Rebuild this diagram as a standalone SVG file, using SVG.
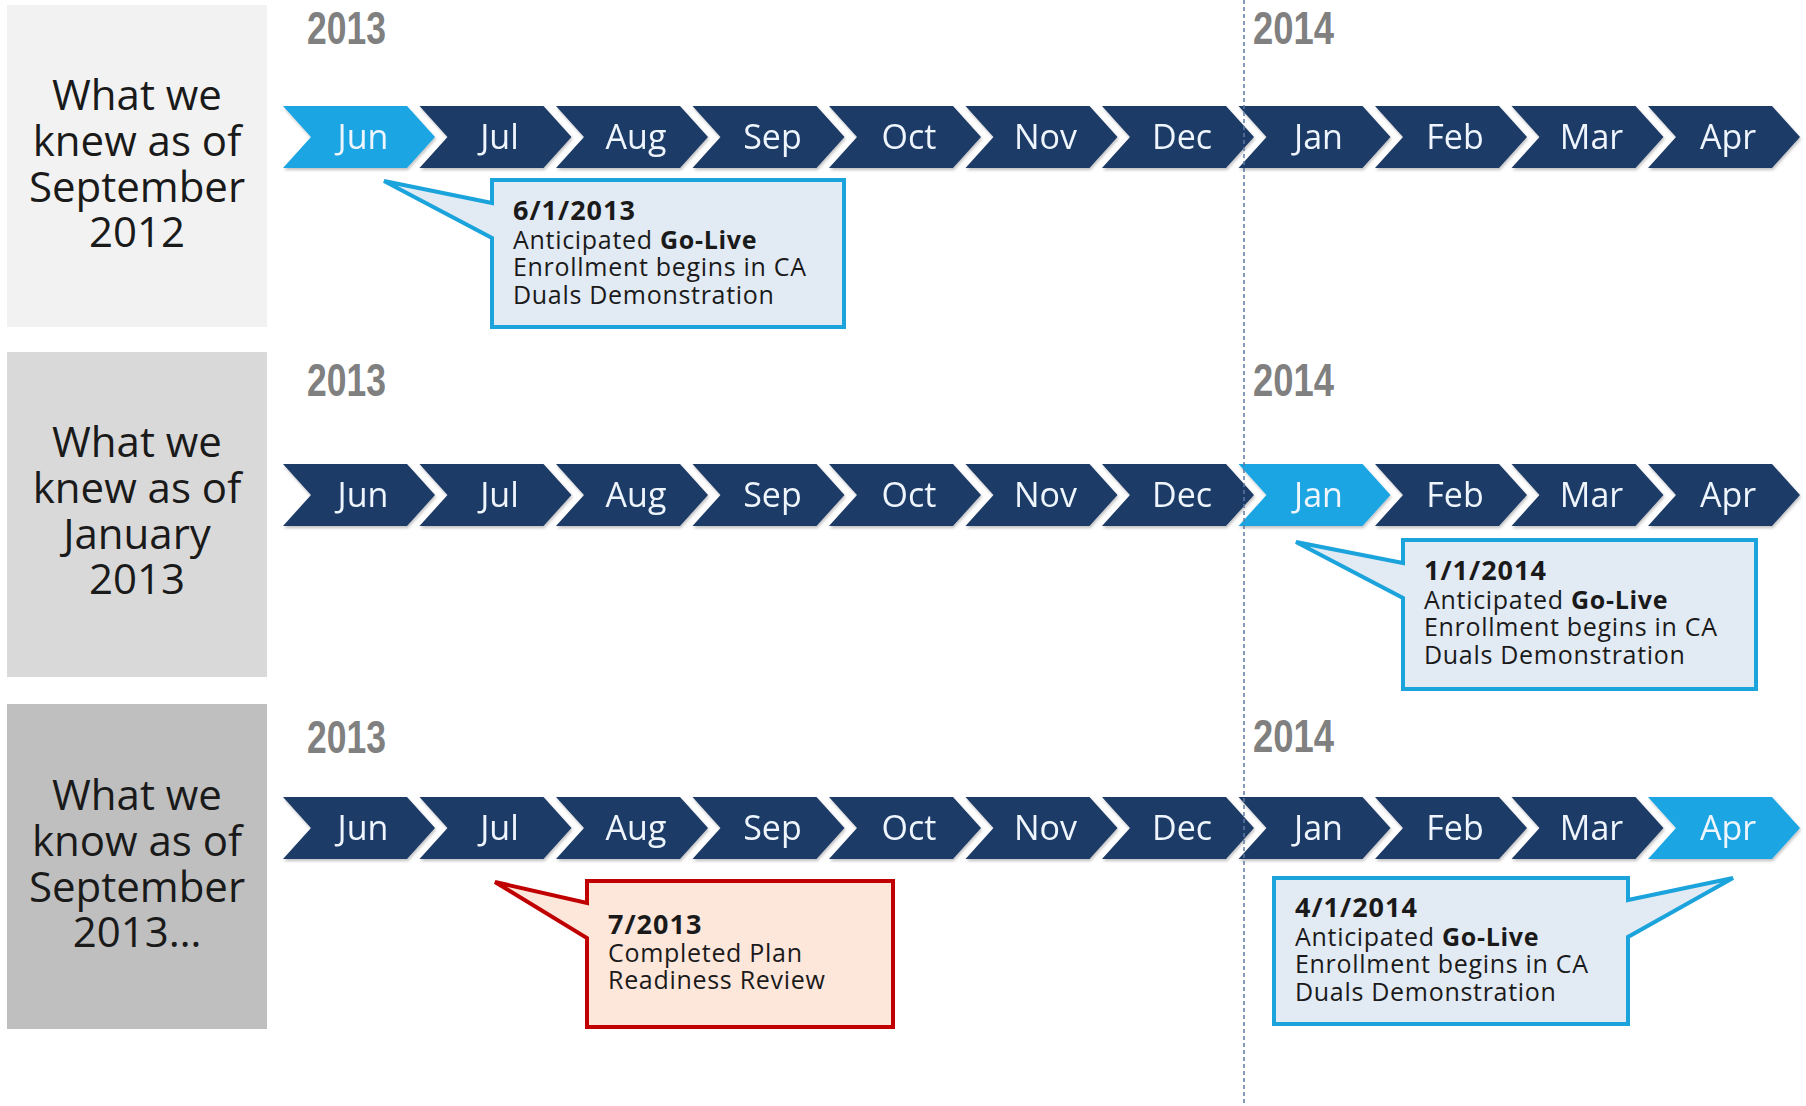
<svg xmlns="http://www.w3.org/2000/svg" xmlns:xlink="http://www.w3.org/1999/xlink" width="1806" height="1106" viewBox="0 0 1806 1106">
<defs>
<filter id="sh" x="-10%" y="-20%" width="120%" height="150%">
<feDropShadow dx="1" dy="2" stdDeviation="1.5" flood-color="#000" flood-opacity="0.25"/>
</filter>
<path id="chev" d="M0,0 H124 L152,31 L124,62 H0 L28,31 Z"/>
</defs>
<style>
.panel-t{font-family:"Open Sans","Noto Sans",sans-serif;font-size:42px;fill:#1a1a1a;text-anchor:middle}
.year{font-family:"Liberation Sans",Arial,sans-serif;font-size:46px;font-weight:bold;fill:#808080}
.dark{fill:#1d3a66}
.hi{fill:#1ca5e3}
.mon{font-family:"Open Sans","Noto Sans",sans-serif;font-size:34px;fill:#eef5fc;text-anchor:middle}
.cb{fill:#e2eaf4;stroke:#1ba3dc;stroke-width:4;stroke-linejoin:miter}
.cr{fill:#fde6da;stroke:#c00000;stroke-width:4;stroke-linejoin:miter}
.ct{font-family:"Open Sans","Noto Sans",sans-serif;font-size:25px;fill:#1a1a1a;letter-spacing:0.7px}
.cd{font-family:"Open Sans","Noto Sans",sans-serif;font-size:27px;font-weight:bold;fill:#1a1a1a;letter-spacing:1px}
.b{font-weight:bold}
</style>
<rect width="1806" height="1106" fill="#ffffff"/>

<!-- Left panels -->
<g id="panel1">
<rect x="7" y="5" width="260" height="322" fill="#f2f2f2"/>
<text class="panel-t"><tspan x="137" y="110">What we</tspan><tspan x="137" y="156">knew as of</tspan><tspan x="137" y="202">September</tspan><tspan x="137" y="247">2012</tspan></text>
</g>
<g id="panel2">
<rect x="7" y="352" width="260" height="325" fill="#d9d9d9"/>
<text class="panel-t"><tspan x="137" y="457">What we</tspan><tspan x="137" y="503">knew as of</tspan><tspan x="137" y="549">January</tspan><tspan x="137" y="594">2013</tspan></text>
</g>
<g id="panel3">
<rect x="7" y="704" width="260" height="325" fill="#bfbfbf"/>
<text class="panel-t"><tspan x="137" y="810">What we</tspan><tspan x="137" y="856">know as of</tspan><tspan x="137" y="902">September</tspan><tspan x="137" y="947">2013…</tspan></text>
</g>

<!-- Year labels -->
<g id="years">
<text class="year" x="307" y="44" textLength="79" lengthAdjust="spacingAndGlyphs">2013</text>
<text class="year" x="1253" y="44" textLength="81" lengthAdjust="spacingAndGlyphs">2014</text>
<text class="year" x="307" y="396" textLength="79" lengthAdjust="spacingAndGlyphs">2013</text>
<text class="year" x="1253" y="396" textLength="81" lengthAdjust="spacingAndGlyphs">2014</text>
<text class="year" x="307" y="753" textLength="79" lengthAdjust="spacingAndGlyphs">2013</text>
<text class="year" x="1253" y="752" textLength="81" lengthAdjust="spacingAndGlyphs">2014</text>
</g>

<!-- Row 1 -->
<g id="row1" filter="url(#sh)">
<g id="r1-jun"><use xlink:href="#chev" x="283" y="106" class="hi"/><text class="mon" x="363" y="149">Jun</text></g>
<g id="r1-jul"><use xlink:href="#chev" x="419.5" y="106" class="dark"/><text class="mon" x="499.5" y="149">Jul</text></g>
<g id="r1-aug"><use xlink:href="#chev" x="556" y="106" class="dark"/><text class="mon" x="636" y="149">Aug</text></g>
<g id="r1-sep"><use xlink:href="#chev" x="692.5" y="106" class="dark"/><text class="mon" x="772.5" y="149">Sep</text></g>
<g id="r1-oct"><use xlink:href="#chev" x="829" y="106" class="dark"/><text class="mon" x="909" y="149">Oct</text></g>
<g id="r1-nov"><use xlink:href="#chev" x="965.5" y="106" class="dark"/><text class="mon" x="1045.5" y="149">Nov</text></g>
<g id="r1-dec"><use xlink:href="#chev" x="1102" y="106" class="dark"/><text class="mon" x="1182" y="149">Dec</text></g>
<g id="r1-jan"><use xlink:href="#chev" x="1238.5" y="106" class="dark"/><text class="mon" x="1318.5" y="149">Jan</text></g>
<g id="r1-feb"><use xlink:href="#chev" x="1375" y="106" class="dark"/><text class="mon" x="1455" y="149">Feb</text></g>
<g id="r1-mar"><use xlink:href="#chev" x="1511.5" y="106" class="dark"/><text class="mon" x="1591.5" y="149">Mar</text></g>
<g id="r1-apr"><use xlink:href="#chev" x="1648" y="106" class="dark"/><text class="mon" x="1728" y="149">Apr</text></g>
</g>

<!-- Row 2 -->
<g id="row2" filter="url(#sh)">
<g id="r2-jun"><use xlink:href="#chev" x="283" y="464" class="dark"/><text class="mon" x="363" y="507">Jun</text></g>
<g id="r2-jul"><use xlink:href="#chev" x="419.5" y="464" class="dark"/><text class="mon" x="499.5" y="507">Jul</text></g>
<g id="r2-aug"><use xlink:href="#chev" x="556" y="464" class="dark"/><text class="mon" x="636" y="507">Aug</text></g>
<g id="r2-sep"><use xlink:href="#chev" x="692.5" y="464" class="dark"/><text class="mon" x="772.5" y="507">Sep</text></g>
<g id="r2-oct"><use xlink:href="#chev" x="829" y="464" class="dark"/><text class="mon" x="909" y="507">Oct</text></g>
<g id="r2-nov"><use xlink:href="#chev" x="965.5" y="464" class="dark"/><text class="mon" x="1045.5" y="507">Nov</text></g>
<g id="r2-dec"><use xlink:href="#chev" x="1102" y="464" class="dark"/><text class="mon" x="1182" y="507">Dec</text></g>
<g id="r2-jan"><use xlink:href="#chev" x="1238.5" y="464" class="hi"/><text class="mon" x="1318.5" y="507">Jan</text></g>
<g id="r2-feb"><use xlink:href="#chev" x="1375" y="464" class="dark"/><text class="mon" x="1455" y="507">Feb</text></g>
<g id="r2-mar"><use xlink:href="#chev" x="1511.5" y="464" class="dark"/><text class="mon" x="1591.5" y="507">Mar</text></g>
<g id="r2-apr"><use xlink:href="#chev" x="1648" y="464" class="dark"/><text class="mon" x="1728" y="507">Apr</text></g>
</g>

<!-- Row 3 -->
<g id="row3" filter="url(#sh)">
<g id="r3-jun"><use xlink:href="#chev" x="283" y="797" class="dark"/><text class="mon" x="363" y="840">Jun</text></g>
<g id="r3-jul"><use xlink:href="#chev" x="419.5" y="797" class="dark"/><text class="mon" x="499.5" y="840">Jul</text></g>
<g id="r3-aug"><use xlink:href="#chev" x="556" y="797" class="dark"/><text class="mon" x="636" y="840">Aug</text></g>
<g id="r3-sep"><use xlink:href="#chev" x="692.5" y="797" class="dark"/><text class="mon" x="772.5" y="840">Sep</text></g>
<g id="r3-oct"><use xlink:href="#chev" x="829" y="797" class="dark"/><text class="mon" x="909" y="840">Oct</text></g>
<g id="r3-nov"><use xlink:href="#chev" x="965.5" y="797" class="dark"/><text class="mon" x="1045.5" y="840">Nov</text></g>
<g id="r3-dec"><use xlink:href="#chev" x="1102" y="797" class="dark"/><text class="mon" x="1182" y="840">Dec</text></g>
<g id="r3-jan"><use xlink:href="#chev" x="1238.5" y="797" class="dark"/><text class="mon" x="1318.5" y="840">Jan</text></g>
<g id="r3-feb"><use xlink:href="#chev" x="1375" y="797" class="dark"/><text class="mon" x="1455" y="840">Feb</text></g>
<g id="r3-mar"><use xlink:href="#chev" x="1511.5" y="797" class="dark"/><text class="mon" x="1591.5" y="840">Mar</text></g>
<g id="r3-apr"><use xlink:href="#chev" x="1648" y="797" class="hi"/><text class="mon" x="1728" y="840">Apr</text></g>
</g>

<!-- Connectors: year divider -->
<g id="connectors">
<line x1="1244" y1="0" x2="1244" y2="1106" stroke="#5d7aa3" stroke-width="1.5" stroke-dasharray="4 3"/>
</g>

<!-- Callouts -->
<g id="callout1">
<path class="cb" d="M492,180 H844 V327 H492 V238 L384,181 L492,203 Z"/>
<text class="cd" x="513" y="220">6/1/2013</text>
<text class="ct" x="513" y="249">Anticipated <tspan class="b">Go-Live</tspan></text>
<text class="ct" x="513" y="276">Enrollment begins in CA</text>
<text class="ct" x="513" y="304">Duals Demonstration</text>
</g>
<g id="callout2">
<path class="cb" d="M1403,540 H1756 V689 H1403 V598 L1296,542 L1403,563 Z"/>
<text class="cd" x="1424" y="580">1/1/2014</text>
<text class="ct" x="1424" y="609">Anticipated <tspan class="b">Go-Live</tspan></text>
<text class="ct" x="1424" y="636">Enrollment begins in CA</text>
<text class="ct" x="1424" y="664">Duals Demonstration</text>
</g>
<g id="callout3">
<path class="cr" d="M587,881 H893 V1027 H587 V938 L495,882 L587,903 Z"/>
<text class="cd" x="608" y="934">7/2013</text>
<text class="ct" x="608" y="962">Completed Plan</text>
<text class="ct" x="608" y="989">Readiness Review</text>
</g>
<g id="callout4">
<path class="cb" d="M1274,878 H1628 V900 L1733,878 L1628,937 V1024 H1274 Z"/>
<text class="cd" x="1295" y="917">4/1/2014</text>
<text class="ct" x="1295" y="946">Anticipated <tspan class="b">Go-Live</tspan></text>
<text class="ct" x="1295" y="973">Enrollment begins in CA</text>
<text class="ct" x="1295" y="1001">Duals Demonstration</text>
</g>
</svg>
